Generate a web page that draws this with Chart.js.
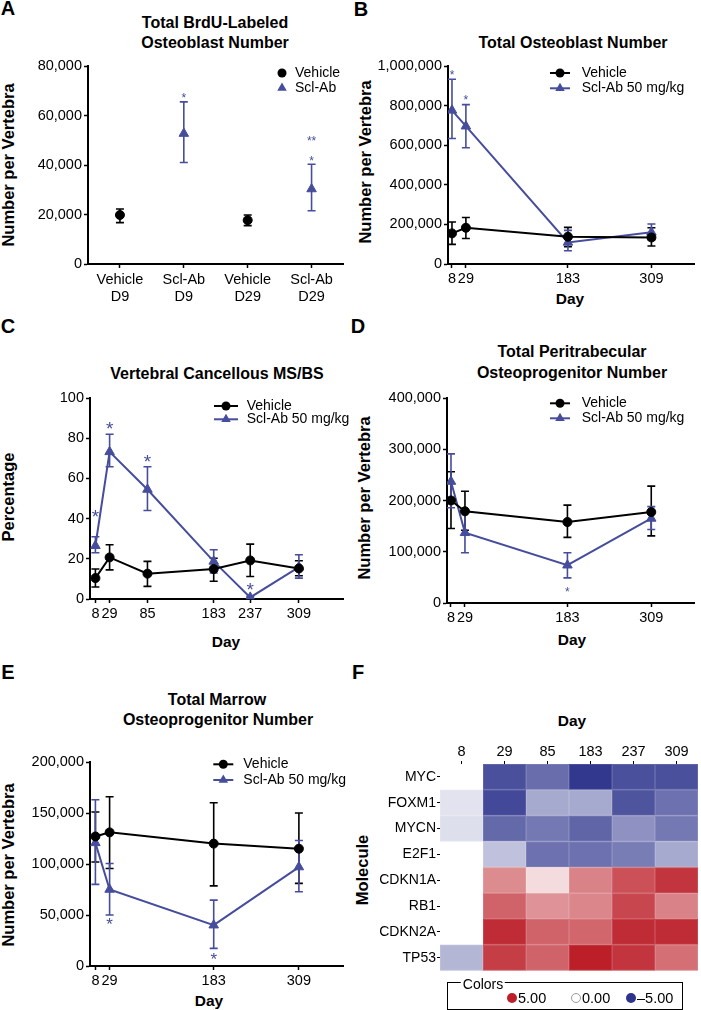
<!DOCTYPE html>
<html>
<head>
<meta charset="utf-8">
<script src="https://cdn.jsdelivr.net/npm/chart.js@4.4.0/dist/chart.umd.min.js"></script>
<style>
html, body { margin: 0; padding: 0; background: #fff; }
body { width: 701px; height: 1010px; position: relative; overflow: hidden;
       font-family: Arial, "Liberation Sans", Helvetica, sans-serif; color: #000; }
canvas { position: absolute; }
.tx { position: absolute; transform: translate(-50%, -50%); white-space: nowrap; line-height: 1; }
.ttl { font-size: 16px; font-weight: bold; }
.yt { font-size: 16.5px; font-weight: bold; transform: translate(-50%, -50%) rotate(-90deg); }
.xt { font-size: 15.5px; font-weight: bold; }
.let { font-size: 20px; font-weight: bold; }
.lx { position: absolute; transform: translateY(-50%); line-height: 1; font-size: 14.5px; white-space: nowrap; }
.dot { position: absolute; width: 10px; height: 10px; border-radius: 50%; transform: translate(-50%, -50%); box-sizing: border-box; }
</style>
</head>
<body>

<!-- panel letters -->
<div class="tx let" style="left:8px;top:8px">A</div>
<div class="tx let" style="left:361px;top:9px">B</div>
<div class="tx let" style="left:8px;top:326px">C</div>
<div class="tx let" style="left:358px;top:326px">D</div>
<div class="tx let" style="left:8px;top:672px">E</div>
<div class="tx let" style="left:358px;top:672px">F</div>

<!-- titles -->
<div class="tx ttl" style="left:215px;top:23px">Total BrdU-Labeled</div>
<div class="tx ttl" style="left:215px;top:43px">Osteoblast Number</div>
<div class="tx ttl" style="left:573px;top:43px">Total Osteoblast Number</div>
<div class="tx ttl" style="left:217px;top:374px">Vertebral Cancellous MS/BS</div>
<div class="tx ttl" style="left:572px;top:352px">Total Peritrabecular</div>
<div class="tx ttl" style="left:572px;top:373px">Osteoprogenitor Number</div>
<div class="tx ttl" style="left:217px;top:700px">Total Marrow</div>
<div class="tx ttl" style="left:218px;top:720px">Osteoprogenitor Number</div>

<!-- axis titles -->
<div class="tx yt" style="left:8px;top:165px">Number per Vertebra</div>
<div class="tx yt" style="left:365px;top:162px">Number per Vertebra</div>
<div class="tx yt" style="left:8px;top:497px">Percentage</div>
<div class="tx yt" style="left:364px;top:498px">Number per Vertebra</div>
<div class="tx yt" style="left:8px;top:865px">Number per Vertebra</div>
<div class="tx yt" style="left:362px;top:870px">Molecule</div>
<div class="tx xt" style="left:570px;top:299px">Day</div>
<div class="tx xt" style="left:226px;top:642px">Day</div>
<div class="tx xt" style="left:572px;top:640px">Day</div>
<div class="tx xt" style="left:209px;top:1001px">Day</div>
<div class="tx xt" style="left:572px;top:721px">Day</div>

<canvas id="chartA"></canvas>
<canvas id="chartB"></canvas>
<canvas id="chartC"></canvas>
<canvas id="chartD"></canvas>
<canvas id="chartE"></canvas>
<canvas id="chartF"></canvas>

<!-- colour key of the heat map -->
<div style="position:absolute;left:447px;top:982px;width:234px;height:26px;border:1px solid #000;"></div>
<div class="tx" style="left:483px;top:984px;font-size:14px;background:#fff;padding:0 2px">Colors</div>
<span class="dot" style="left:512px;top:998px;background:#BC1F28"></span>
<span class="lx" style="left:518px;top:998px">5.00</span>
<span class="dot" style="left:576px;top:998px;background:#fff;border:1px solid #999"></span>
<span class="lx" style="left:582px;top:998px">0.00</span>
<span class="dot" style="left:631px;top:998px;background:#2E348C"></span>
<span class="lx" style="left:637px;top:998px">–5.00</span>

<script>
/* -----------------------------
    DATA
------------------------------ */
const VEH_COLOR = '#000000';
const SCL_COLOR = '#464D9C';

// A - BrdU-labeled osteoblasts
const groupsA = [['Vehicle', 'D9'], ['Scl-Ab', 'D9'], ['Vehicle', 'D29'], ['Scl-Ab', 'D29']];
const vehA   = [19800, null, 17700, null];
const vehALo = [16700, null, 15500, null];
const vehAHi = [22200, null, 19800, null];
const sclA   = [null, 52700, null, 30300];
const sclALo = [null, 41000, null, 21500];
const sclAHi = [null, 65500, null, 40300];
const starsA = [null, [['*', 68400]], null, [['*', 42600], ['**', 50700]]];

// B - total osteoblasts
const daysB  = [8, 29, 183, 309];
const vehB   = [154600, 183000, 137800, 134000];
const vehBLo = [99000, 129000, 87000, 90700];
const vehBHi = [211800, 235000, 185000, 183000];
const sclB   = [776000, 696000, 109000, 160000];
const sclBLo = [634000, 587000, 67000, 121000];
const sclBHi = [933000, 805000, 170000, 202000];
const starsB = [[['*', 970000]], [['*', 844000]], null, null];

// C - MS/BS
const daysC  = [8, 29, 85, 183, 237, 309];
const vehC   = [10.4, 20.7, 12.6, 14.9, 19.2, 15.2];
const vehCLo = [6, 14.5, 6.3, 8.8, 11.2, 11.6];
const vehCHi = [14.9, 27, 18.7, 20.3, 27.3, 19];
const sclC   = [26.5, 73.2, 54.5, 18.7, 0.8, 15.9];
const sclCLo = [23, 65.8, 44, 12.9, 0.3, 10.4];
const sclCHi = [31, 82, 65.8, 24.5, 1.3, 22];
const starsC = [[['*', 43]], [['*', 87]], [['*', 70.7]], null, [['*', 7.1]], null];

// D - peritrabecular osteoprogenitors
const daysD  = [8, 29, 183, 309];
const vehD   = [200000, 179000, 158000, 177500];
const vehDLo = [145500, 142000, 128000, 131000];
const vehDHi = [256000, 218000, 191000, 228000];
const sclD   = [237000, 137000, 73700, 165000];
const sclDLo = [186000, 98000, 49000, 143500];
const sclDHi = [291000, 176000, 98000, 188000];
const starsD = [null, null, [['*', 28000]], null];

// E - marrow osteoprogenitors
const daysE  = [8, 29, 183, 309];
const vehE   = [127000, 131000, 120000, 115000];
const vehELo = [102000, 95600, 78600, 81000];
const vehEHi = [151000, 166000, 160000, 150000];
const sclE   = [120700, 75000, 40000, 97000];
const sclELo = [80000, 50000, 17300, 72800];
const sclEHi = [163000, 100500, 64600, 123000];
const starsE = [null, [['*', 44400]], [['*', 10800]], null];

// F - heat map (fold change, null = no value)
const colsF = ['8', '29', '85', '183', '237', '309'];
const rowsF = ['MYC', 'FOXM1', 'MYCN', 'E2F1', 'CDKN1A', 'RB1', 'CDKN2A', 'TP53'];
const heatF = [
    [null, -4.3, -3.6, -4.9, -4.3, -4.3],
    [-0.7, -4.5, -2.1, -2.1, -4.2, -3.5],
    [-0.8, -3.7, -3.3, -3.8, -2.7, -3.3],
    [null, -1.5, -3.5, -3.5, -3.2, -2.1],
    [null,  2.6,  0.8,  2.8,  3.9,  4.5],
    [null,  3.5,  2.4,  2.7,  4.1,  2.8],
    [null,  4.7,  3.5,  3.4,  4.7,  4.7],
    [-1.8,  4.3,  3.5,  5.0,  4.5,  3.2]
];

/* -----------------------------
    LAYOUT (page pixels)
------------------------------ */
const panels = {
    A: { x: 0,   y: 40,  w: 350, h: 280, area: { l: 88,  t: 66,  r: 345, b: 264 } },
    B: { x: 350, y: 40,  w: 351, h: 280, area: { l: 448, t: 66,  r: 699, b: 264 } },
    C: { x: 0,   y: 380, w: 350, h: 250, area: { l: 90,  t: 398, r: 347, b: 599 } },
    D: { x: 350, y: 380, w: 351, h: 250, area: { l: 447, t: 398, r: 699, b: 603 } },
    E: { x: 0,   y: 740, w: 350, h: 260, area: { l: 90,  t: 762, r: 347, b: 966 } },
    F: { x: 350, y: 730, w: 351, h: 250, area: { l: 440, t: 764, r: 698, b: 973 } }
};

Chart.defaults.font.family = 'Arial, "Liberation Sans", Helvetica, sans-serif';
Chart.defaults.font.size = 14.5;
Chart.defaults.color = '#000';

const tickFont = { size: 14.5, lineHeight: 1.15 };
const fmt = v => Number(v).toLocaleString('en-US');

/* -----------------------------
    PLUGINS
------------------------------ */
const errorBars = {
    id: 'errorBars',
    beforeDatasetsDraw(chart) {
        const ctx = chart.ctx, yS = chart.scales.y, cap = 4;
        chart.data.datasets.forEach((ds, di) => {
            if (!ds.lo) return;
            const meta = chart.getDatasetMeta(di);
            ctx.save();
            ctx.strokeStyle = ds.borderColor;
            ctx.lineWidth = 1.6;
            meta.data.forEach((pt, i) => {
                if (ds.lo[i] == null) return;
                const x = pt.x;
                const y1 = yS.getPixelForValue(ds.lo[i]);
                const y2 = yS.getPixelForValue(ds.hi[i]);
                ctx.beginPath();
                ctx.moveTo(x, y1); ctx.lineTo(x, y2);
                ctx.moveTo(x - cap, y1); ctx.lineTo(x + cap, y1);
                ctx.moveTo(x - cap, y2); ctx.lineTo(x + cap, y2);
                ctx.stroke();
            });
            ctx.restore();
        });
    },
    afterDatasetsDraw(chart, args, opts) {
        const ctx = chart.ctx, yS = chart.scales.y, size = opts.starSize || 12;
        chart.data.datasets.forEach((ds, di) => {
            if (!ds.stars) return;
            const meta = chart.getDatasetMeta(di);
            ctx.save();
            ctx.fillStyle = ds.borderColor;
            ctx.font = size + 'px Arial, "Liberation Sans", sans-serif';
            ctx.textAlign = 'center';
            ctx.textBaseline = 'alphabetic';
            ds.stars.forEach((list, i) => {
                if (!list) return;
                list.forEach(([txt, v]) => {
                    ctx.fillText(txt, meta.data[i].x, yS.getPixelForValue(v) + 0.575 * size);
                });
            });
            ctx.restore();
        });
    }
};

function marker(ctx, style, r, x, y) {
    ctx.beginPath();
    if (style === 'triangle') {
        let a = 0;
        ctx.moveTo(x + Math.sin(a) * r, y - Math.cos(a) * r);
        a += 2 * Math.PI / 3;
        ctx.lineTo(x + Math.sin(a) * r, y - Math.cos(a) * r);
        a += 2 * Math.PI / 3;
        ctx.lineTo(x + Math.sin(a) * r, y - Math.cos(a) * r);
        ctx.closePath();
    } else {
        ctx.arc(x, y, r, 0, Math.PI * 2);
    }
    ctx.fill();
}

const keyBox = {
    id: 'keyBox',
    afterDraw(chart, args, o) {
        if (!o || o.x == null) return;
        const ctx = chart.ctx;
        chart.data.datasets.forEach((ds, i) => {
            const y = o.y + i * o.gap;
            ctx.save();
            ctx.strokeStyle = ds.borderColor;
            ctx.fillStyle = ds.borderColor;
            if (o.line) {
                ctx.lineWidth = 2;
                ctx.beginPath();
                ctx.moveTo(o.x - o.line, y);
                ctx.lineTo(o.x + o.line, y);
                ctx.stroke();
            }
            marker(ctx, ds.pointStyle, ds.pointRadius, o.x, y);
            ctx.fillStyle = '#000';
            ctx.font = '14px Arial, "Liberation Sans", sans-serif';
            ctx.textBaseline = 'middle';
            ctx.textAlign = 'left';
            ctx.fillText(ds.label, o.tx, y);
            ctx.restore();
        });
    }
};

function heatColor(v) {
    const end = v >= 0 ? [188, 31, 40] : [46, 52, 140];
    const t = Math.min(Math.abs(v) / 5, 1);
    const c = end.map(e => Math.round(255 + (e - 255) * t));
    return 'rgb(' + c.join(',') + ')';
}

const heatCells = {
    id: 'heatCells',
    beforeDatasetsDraw(chart) {
        const ctx = chart.ctx, xs = chart.scales.x, ys = chart.scales.y;
        const w = (xs.right - xs.left) / colsF.length;
        const h = (ys.bottom - ys.top) / rowsF.length;
        ctx.save();
        chart.data.datasets[0].data.forEach(c => {
            const cx = xs.getPixelForValue(colsF.indexOf(c.x));
            const cy = ys.getPixelForValue(rowsF.indexOf(c.y));
            ctx.fillStyle = heatColor(c.v);
            ctx.fillRect(cx - w / 2, cy - h / 2, w, h);
            ctx.strokeStyle = 'rgba(255,255,255,0.12)';
            ctx.lineWidth = 1;
            ctx.strokeRect(cx - w / 2 + 0.5, cy - h / 2 + 0.5, w - 1, h - 1);
        });
        ctx.restore();
    }
};

/* -----------------------------
    HELPERS
------------------------------ */
function setupCanvas(id, p) {
    const cv = document.getElementById(id);
    cv.width = p.w;
    cv.height = p.h;
    cv.style.left = p.x + 'px';
    cv.style.top = p.y + 'px';
    cv.style.width = p.w + 'px';
    cv.style.height = p.h + 'px';
    return cv;
}

const axisGrid = { drawOnChartArea: false, tickLength: 4, tickWidth: 1.5, color: '#000' };
const axisBorder = { color: '#000', width: 2 };

function yAxis(p, max, step) {
    return {
        type: 'linear', min: 0, max: max,
        ticks: { stepSize: step, padding: 2, font: tickFont, callback: fmt },
        grid: axisGrid, border: axisBorder,
        afterFit: s => { s.width = p.area.l - p.x; }
    };
}

function dayAxis(p, days, min, max) {
    return {
        type: 'linear', min: min, max: max,
        afterBuildTicks: s => { s.ticks = days.map(v => ({ value: v })); },
        ticks: { autoSkip: false, maxRotation: 0, padding: 3, font: tickFont, callback: v => String(v) },
        grid: axisGrid, border: axisBorder,
        afterFit: s => { s.height = p.y + p.h - p.area.b; }
    };
}

function series(label, days, vals, lo, hi, color, style, stars) {
    return {
        label: label,
        data: days ? days.map((d, i) => ({ x: d, y: vals[i] })) : vals,
        lo: lo, hi: hi, stars: stars,
        borderColor: color, backgroundColor: color,
        pointBackgroundColor: color, pointBorderColor: color,
        pointStyle: style,
        pointRadius: style === 'circle' ? 4.5 : 5.5,
        pointBorderWidth: 1,
        borderWidth: 2,
        tension: 0,
        showLine: !!days
    };
}

function padFor(p) {
    return { left: 0, top: p.area.t - p.y, right: p.x + p.w - p.area.r, bottom: 0 };
}

function key(p, mx, tx, y, gap, line) {
    return { x: mx - p.x, tx: tx - p.x, y: y - p.y, gap: gap, line: line };
}

function timeChart(id, p, days, veh, sclv, yMax, yStep, xMin, xMax, starSize, keyOpts) {
    new Chart(setupCanvas(id, p), {
        type: 'scatter',
        data: {
            datasets: [
                series('Vehicle', days, veh[0], veh[1], veh[2], VEH_COLOR, 'circle', null),
                series('Scl-Ab 50 mg/kg', days, sclv[0], sclv[1], sclv[2], SCL_COLOR, 'triangle', sclv[3])
            ]
        },
        options: {
            responsive: false, animation: false,
            layout: { padding: padFor(p) },
            plugins: { legend: { display: false }, tooltip: { enabled: false },
                       errorBars: { starSize: starSize }, keyBox: keyOpts },
            scales: { x: dayAxis(p, days, xMin, xMax), y: yAxis(p, yMax, yStep) }
        },
        plugins: [errorBars, keyBox]
    });
}

/* -----------------------------
    A. BRDU-LABELED OSTEOBLASTS
------------------------------ */
(function () {
    const p = panels.A;
    new Chart(setupCanvas('chartA', p), {
        type: 'line',
        data: {
            labels: groupsA,
            datasets: [
                series('Vehicle', null, vehA, vehALo, vehAHi, VEH_COLOR, 'circle', null),
                series('Scl-Ab', null, sclA, sclALo, sclAHi, SCL_COLOR, 'triangle', starsA)
            ]
        },
        options: {
            responsive: false, animation: false,
            layout: { padding: padFor(p) },
            plugins: { legend: { display: false }, tooltip: { enabled: false },
                       errorBars: { starSize: 12 }, keyBox: key(p, 282, 295, 73, 15, 0) },
            scales: {
                x: {
                    type: 'category', offset: true,
                    ticks: { autoSkip: false, maxRotation: 0, padding: 4, font: tickFont },
                    grid: axisGrid, border: axisBorder,
                    afterFit: s => { s.height = p.y + p.h - p.area.b; }
                },
                y: yAxis(p, 80000, 20000)
            }
        },
        plugins: [errorBars, keyBox]
    });
})();

/* -----------------------------
    B - E. TIME COURSES
------------------------------ */
timeChart('chartB', panels.B, daysB,
    [vehB, vehBLo, vehBHi], [sclB, sclBLo, sclBHi, starsB],
    1000000, 200000, 2, 374, 12, key(panels.B, 560, 581.7, 73, 15.3, 10));

timeChart('chartC', panels.C, daysC,
    [vehC, vehCLo, vehCHi], [sclC, sclCLo, sclCHi, starsC],
    100, 20, 0, 375, 19, key(panels.C, 226, 246.7, 406, 13.3, 12));

timeChart('chartD', panels.D, daysD,
    [vehD, vehDLo, vehDHi], [sclD, sclDLo, sclDHi, starsD],
    400000, 100000, 2, 374, 12, key(panels.D, 560, 581.7, 403.3, 15, 10));

timeChart('chartE', panels.E, daysE,
    [vehE, vehELo, vehEHi], [sclE, sclELo, sclEHi, starsE],
    200000, 50000, 0, 375, 17, key(panels.E, 223.3, 243.3, 764.3, 15.7, 10));

/* -----------------------------
    F. HEAT MAP
------------------------------ */
(function () {
    const p = panels.F;
    const cells = [];
    rowsF.forEach((r, i) => colsF.forEach((c, j) => {
        if (heatF[i][j] != null) cells.push({ x: c, y: r, v: heatF[i][j] });
    }));
    const thin = { drawOnChartArea: false, tickLength: 3, tickWidth: 1, color: '#000' };
    new Chart(setupCanvas('chartF', p), {
        type: 'scatter',
        data: { datasets: [{ data: cells, pointRadius: 0, showLine: false }] },
        options: {
            responsive: false, animation: false,
            layout: { padding: { left: 0, top: 0, right: p.x + p.w - p.area.r, bottom: p.y + p.h - p.area.b } },
            plugins: { legend: { display: false }, tooltip: { enabled: false } },
            scales: {
                x: {
                    type: 'category', labels: colsF, position: 'top', offset: true,
                    ticks: { autoSkip: false, maxRotation: 0, padding: 0, font: { size: 14.5 } },
                    grid: thin, border: { display: false },
                    afterFit: s => { s.height = p.area.t - p.y; }
                },
                y: {
                    type: 'category', labels: rowsF, offset: true,
                    ticks: { autoSkip: false, padding: 1, font: { size: 14 } },
                    grid: thin, border: { display: false },
                    afterFit: s => { s.width = p.area.l - p.x; }
                }
            }
        },
        plugins: [heatCells]
    });
})();
</script>
</body>
</html>
